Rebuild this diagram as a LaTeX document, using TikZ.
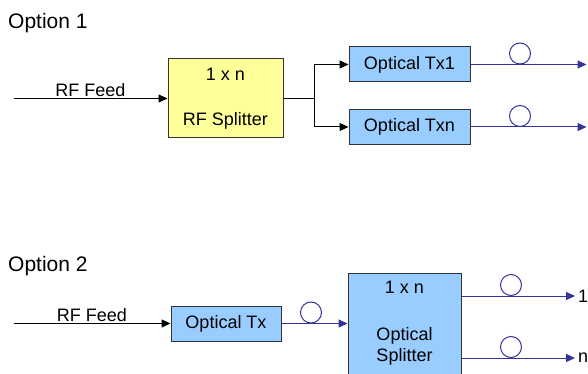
\documentclass[tikz,border=0pt]{standalone}
\usepackage{fontspec}
\setmainfont{Liberation Sans}
\usetikzlibrary{arrows.meta, positioning}
\definecolor{splitcol}{RGB}{255,255,153}
\definecolor{txcol}{RGB}{153,204,255}
\definecolor{fibrecol}{RGB}{51,51,153}
\definecolor{edgecol}{RGB}{51,51,51}

\begin{document}
\begin{tikzpicture}[
  x=1pt, y=-1pt,
  >={Triangle[length=9pt,width=8pt]},
  every node/.style={font=\fontsize{18pt}{21pt}\selectfont},
  box/.style={draw=edgecol, line width=1pt, minimum height=35pt,
              inner sep=0pt, align=center},
  txbox/.style={box, fill=txcol, minimum width=121pt},
  splitbox/.style={box, minimum width=115pt, minimum height=79pt},
  title/.style={anchor=base west, inner sep=0pt,
                font=\fontsize{21pt}{24pt}\selectfont},
  feed/.style={->, line width=1pt, black},
  fibre/.style={->, line width=1pt, fibrecol},
  coil/.style={circle, draw=fibrecol, line width=1pt, minimum size=21pt,
               inner sep=0pt, anchor=south},
  tag/.style={above, inner sep=1.5pt}
]
  \useasboundingbox (0,0) rectangle (588,374);
  \clip (0,0) rectangle (588,374);

  % option 1
  \node[title] (opt1) at (8,29) {Option 1};
  \node[splitbox, fill=splitcol] (rfsplit) at (225.5,98.5) {1 x n\\[24pt]RF Splitter};
  \node[txbox, right=65pt of rfsplit, yshift=34pt] (tx1) {Optical Tx1};
  \node[txbox, right=65pt of rfsplit, yshift=-28.5pt] (txn) {Optical Txn};
  \coordinate[left=154pt of rfsplit] (feed1);
  \coordinate[right=31pt of rfsplit] (fork);
  \coordinate[right=116pt of tx1] (end1);
  \coordinate[right=116pt of txn] (endn);
  \draw[feed] (feed1) -- node[tag] (rf1) {RF Feed} (rfsplit);
  \draw[line width=1pt] (rfsplit) -- (fork);
  \draw[feed] (fork) |- (tx1);
  \draw[feed] (fork) |- (txn);
  \draw[fibre] (tx1) -- (end1);
  \draw[fibre] (txn) -- (endn);
  \node[coil] (coil1) at (520,64.5) {};
  \node[coil] (coiln) at (520,127) {};

  % option 2
  \node[title] (opt2) at (8,271) {Option 2};
  \node[txbox, minimum width=110pt] (otx) at (226,323.5) {Optical Tx};
  \node[splitbox, fill=txcol, minimum width=113pt, minimum height=101pt,
        right=66pt of otx] (osplit) {1 x n\\[26pt]Optical\\Splitter};
  \coordinate[left=157pt of otx] (feed2);
  \coordinate (end2a) at (575,296);
  \coordinate (end2n) at (575,358);
  \draw[feed] (feed2) -- node[tag] (rf2) {RF Feed} (otx);
  \draw[fibre] (otx) -- (osplit);
  \draw[fibre] (osplit.east |- end2a) -- (end2a);
  \draw[fibre] (osplit.east |- end2n) -- (end2n);
  \node[coil] (coil2) at (311,323.5) {};
  \node[coil] (coil2a) at (511,296) {};
  \node[coil] (coil2n) at (511,358) {};
  \node[right=2pt of end2a, inner sep=1pt] (lab1) {1};
  \node[right=2pt of end2n, inner sep=1pt] (labn) {n};
\end{tikzpicture}
\end{document}
